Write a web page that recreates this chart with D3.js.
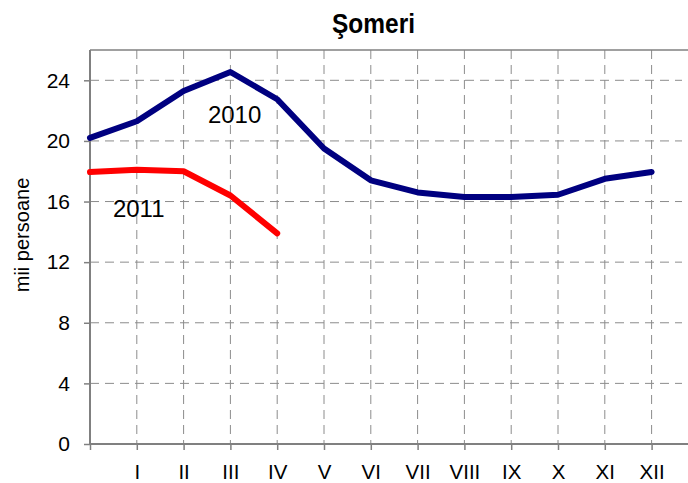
<!DOCTYPE html>
<html><head><meta charset="utf-8">
<script src="https://cdn.jsdelivr.net/npm/d3@7"></script>
<style>body{margin:0;background:#fff}svg{display:block}text{font-family:"Liberation Sans",Arial,sans-serif}</style>
</head><body>
<script>
const categories = ["", "I", "II", "III", "IV", "V", "VI", "VII", "VIII", "IX", "X", "XI", "XII"];
const series2010 = [20.2, 21.3, 23.3, 24.55, 22.75, 19.5, 17.4, 16.6, 16.3, 16.3, 16.45, 17.5, 17.95];
const series2011 = [17.95, 18.1, 18.0, 16.4, 13.9];
const yTicks = [0, 4, 8, 12, 16, 20, 24];
const seriesLabels = [{text: "2010", i: 2.52, v: 21.15}, {text: "2011", i: 0.49, v: 15.0}];

(function () {
const W = 688, H = 483;
const mLeft = 90, mTop = 50, mBottom = 444, rightEdge = 690, gridRight = 682;
const svg = d3.select("body").append("svg").attr("width", W).attr("height", H);

const x = d3.scaleLinear().domain([0, 12]).range([mLeft, 651.6]);
const y = d3.scaleLinear().domain([0, 26]).range([mBottom, mTop]);

// grid
const g = svg.append("g");
g.selectAll("line.h").data(yTicks.filter(d => d > 0)).join("line")
  .attr("x1", mLeft).attr("x2", gridRight).attr("y1", d => y(d)).attr("y2", d => y(d))
  .attr("stroke", "#8c8c8c").attr("stroke-width", 1).attr("stroke-dasharray", "9,6");
g.selectAll("line.v").data(d3.range(1, categories.length)).join("line")
  .attr("x1", d => x(d)).attr("x2", d => x(d)).attr("y1", mTop).attr("y2", mBottom)
  .attr("stroke", "#8c8c8c").attr("stroke-width", 1).attr("stroke-dasharray", "9,6");

// frame top
svg.append("line").attr("x1", mLeft).attr("x2", rightEdge).attr("y1", mTop).attr("y2", mTop)
  .attr("stroke", "#808080").attr("stroke-width", 1.5);

// y axis
const yAxis = svg.append("g").attr("transform", `translate(${mLeft},0)`)
  .call(d3.axisLeft(y).tickValues(yTicks).tickSize(6).tickPadding(14).tickFormat(d3.format("d")));
yAxis.select(".domain").attr("stroke", "#808080").attr("stroke-width", 2).attr("d", `M0,${mTop}V${mBottom}`);
yAxis.selectAll(".tick line").attr("stroke", "#808080").attr("stroke-width", 1.5);
yAxis.selectAll("text").attr("font-size", 21).attr("fill", "#000");

// x axis
const xAxis = svg.append("g").attr("transform", `translate(0,${mBottom})`)
  .call(d3.axisBottom(x).tickValues(d3.range(categories.length)).tickSize(6).tickPadding(14).tickFormat(i => categories[i]));
xAxis.select(".domain").attr("stroke", "#808080").attr("stroke-width", 2).attr("d", `M${mLeft},0H${rightEdge}`);
xAxis.selectAll(".tick line").attr("stroke", "#808080").attr("stroke-width", 1.5);
xAxis.selectAll("text").attr("font-size", 20.5).attr("fill", "#000");

// lines
const line = d3.line().x((d, i) => x(i)).y(d => y(d));
svg.append("path").datum(series2010).attr("d", line).attr("fill", "none")
  .attr("stroke", "#000080").attr("stroke-width", 6).attr("stroke-linejoin", "round").attr("stroke-linecap", "round");
svg.append("path").datum(series2011).attr("d", line).attr("fill", "none")
  .attr("stroke", "#ff0000").attr("stroke-width", 6).attr("stroke-linejoin", "round").attr("stroke-linecap", "round");

// series labels
svg.selectAll("text.sl").data(seriesLabels).join("text")
  .attr("x", d => x(d.i)).attr("y", d => y(d.v)).text(d => d.text)
  .attr("font-size", 24).attr("fill", "#000");

// title
svg.append("text").attr("x", 332).attr("y", 33)
  .attr("font-size", 27).attr("font-weight", "bold")
  .attr("textLength", 83).attr("lengthAdjust", "spacingAndGlyphs").text("Şomeri");

// y label
svg.append("text").attr("transform", "translate(29,235) rotate(-90)").attr("text-anchor", "middle")
  .attr("font-size", 20).text("mii persoane");
})();
</script>
</body></html>
